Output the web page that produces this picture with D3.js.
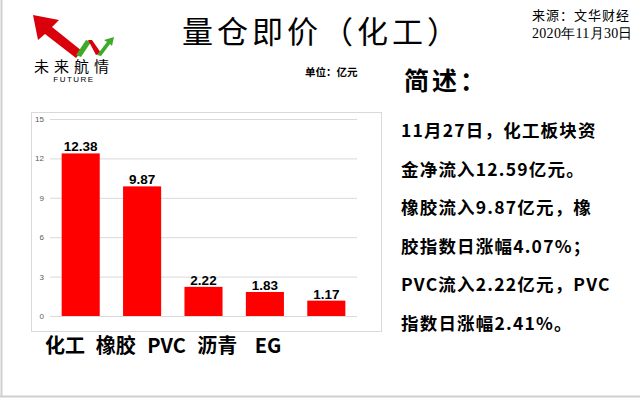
<!DOCTYPE html>
<html>
<head>
<meta charset="utf-8">
<script src="https://d3js.org/d3.v7.min.js"></script>
<style>
  body { margin: 0; background: #fff; font-family: "Noto Sans CJK SC", sans-serif; }
</style>
</head>
<body>
<div id="chart"></div>
<script>
// data
var categories = ["化工", "橡胶", "PVC", "沥青", "EG"];
var values = [12.38, 9.87, 2.22, 1.83, 1.17];
var yTicks = [0, 3, 6, 9, 12, 15];
var summaryLines = [
  "11月27日，化工板块资",
  "金净流入12.59亿元。",
  "橡胶流入9.87亿元，橡",
  "胶指数日涨幅4.07%；",
  "PVC流入2.22亿元，PVC",
  "指数日涨幅2.41%。"
];

var W = 640, H = 398;
var svg = d3.select("#chart").append("svg")
  .attr("width", W).attr("height", H);

// page border (left + bottom)
svg.append("line").attr("x1", 1.5).attr("x2", 1.5).attr("y1", 0).attr("y2", 396)
  .attr("stroke", "#cfcfcf").attr("stroke-width", 2);
svg.append("line").attr("x1", 0).attr("x2", W).attr("y1", 396.5).attr("y2", 396.5)
  .attr("stroke", "#cfcfcf").attr("stroke-width", 2);

// logo
var logo = svg.append("g");
logo.append("path")
  .attr("d", "M33,15 L59,20 L52,27 L82,51 L76,58 L45,34 L38,40 Z")
  .attr("fill", "#d9000b");
logo.append("path")
  .attr("d", "M76,55 L86,40 L91,42 L81,57 Z").attr("fill", "#3faa2a");
logo.append("path")
  .attr("d", "M88,40 L92,40 L101,53 L96,55 Z").attr("fill", "#d9000b");
logo.append("path")
  .attr("d", "M97,55 L107,42 L104,40 L114,37 L112,46 L110,44 L101,56 Z").attr("fill", "#3faa2a");
logo.append("text").attr("x", 74).attr("y", 72).attr("text-anchor", "middle")
  .style("font-size", "15px").style("letter-spacing", "5px")
  .text("未来航情");
logo.append("text").attr("x", 74).attr("y", 82).attr("text-anchor", "middle")
  .style("font-family", "Liberation Sans, sans-serif").style("font-size", "8px")
  .style("letter-spacing", "1.5px").text("FUTURE");

// title + source
svg.append("text").attr("x", 182).attr("y", 43)
  .style("font-size", "31px").style("letter-spacing", "4px")
  .text("量仓即价（化工）");
svg.append("text").attr("x", 532).attr("y", 20)
  .style("font-size", "13px").style("letter-spacing", "1px")
  .text("来源：文华财经");
svg.append("text").attr("x", 532).attr("y", 38)
  .style("font-family", "Liberation Serif, serif").style("font-size", "14px")
  .style("letter-spacing", "0.3px")
  .text("2020年11月30日");
svg.append("text").attr("x", 305).attr("y", 76)
  .style("font-size", "10.5px").style("font-weight", "bold")
  .text("单位：亿元");

// summary
svg.append("text").attr("x", 404).attr("y", 90)
  .style("font-size", "25px").style("font-weight", "bold").style("letter-spacing", "3px")
  .text("简述：");
svg.append("g").selectAll("text").data(summaryLines).enter().append("text")
  .attr("x", 401)
  .attr("y", function (d, i) { return 137 + i * 38.6; })
  .style("font-size", "17.5px").style("font-weight", "bold").style("letter-spacing", "1.2px")
  .text(function (d) { return d; });

// chart frame
svg.append("rect").attr("x", 31.5).attr("y", 112.5).attr("width", 350).attr("height", 219)
  .attr("fill", "none").attr("stroke", "#d9d9d9");

var x = d3.scaleBand().domain(categories).range([50, 357])
  .paddingInner(0.38).paddingOuter(0.19);
var y = d3.scaleLinear().domain([0, 15]).range([316, 119]);

// gridlines
var yAxis = svg.append("g").attr("transform", "translate(50,0)")
  .call(d3.axisLeft(y).tickValues(yTicks).tickSize(-307).tickPadding(6));
yAxis.select(".domain").remove();
yAxis.selectAll(".tick line").attr("stroke", "#d9d9d9");
yAxis.selectAll(".tick text").attr("fill", "#595959")
  .style("font-family", "Liberation Sans, sans-serif").style("font-size", "8px");

// bars
svg.append("g").selectAll("rect").data(values).enter().append("rect")
  .attr("x", function (d, i) { return x(categories[i]); })
  .attr("y", function (d) { return y(d); })
  .attr("width", x.bandwidth())
  .attr("height", function (d) { return y(0) - y(d); })
  .attr("fill", "#ff0000");

// value labels
svg.append("g").selectAll("text").data(values).enter().append("text")
  .attr("x", function (d, i) { return x(categories[i]) + x.bandwidth() / 2; })
  .attr("y", function (d) { return y(d) - 2; })
  .attr("text-anchor", "middle")
  .style("font-family", "Liberation Sans, sans-serif")
  .style("font-size", "13.5px").style("font-weight", "bold")
  .text(function (d) { return d.toFixed(2); });

// category labels (below the frame, own spacing)
var xl = d3.scalePoint().domain(categories).range([65, 268]);
svg.append("g").selectAll("text").data(categories).enter().append("text")
  .attr("x", function (d) { return xl(d); })
  .attr("y", 353)
  .attr("text-anchor", "middle")
  .style("font-size", "20px").style("font-weight", "bold")
  .text(function (d) { return d; });
</script>
</body>
</html>
